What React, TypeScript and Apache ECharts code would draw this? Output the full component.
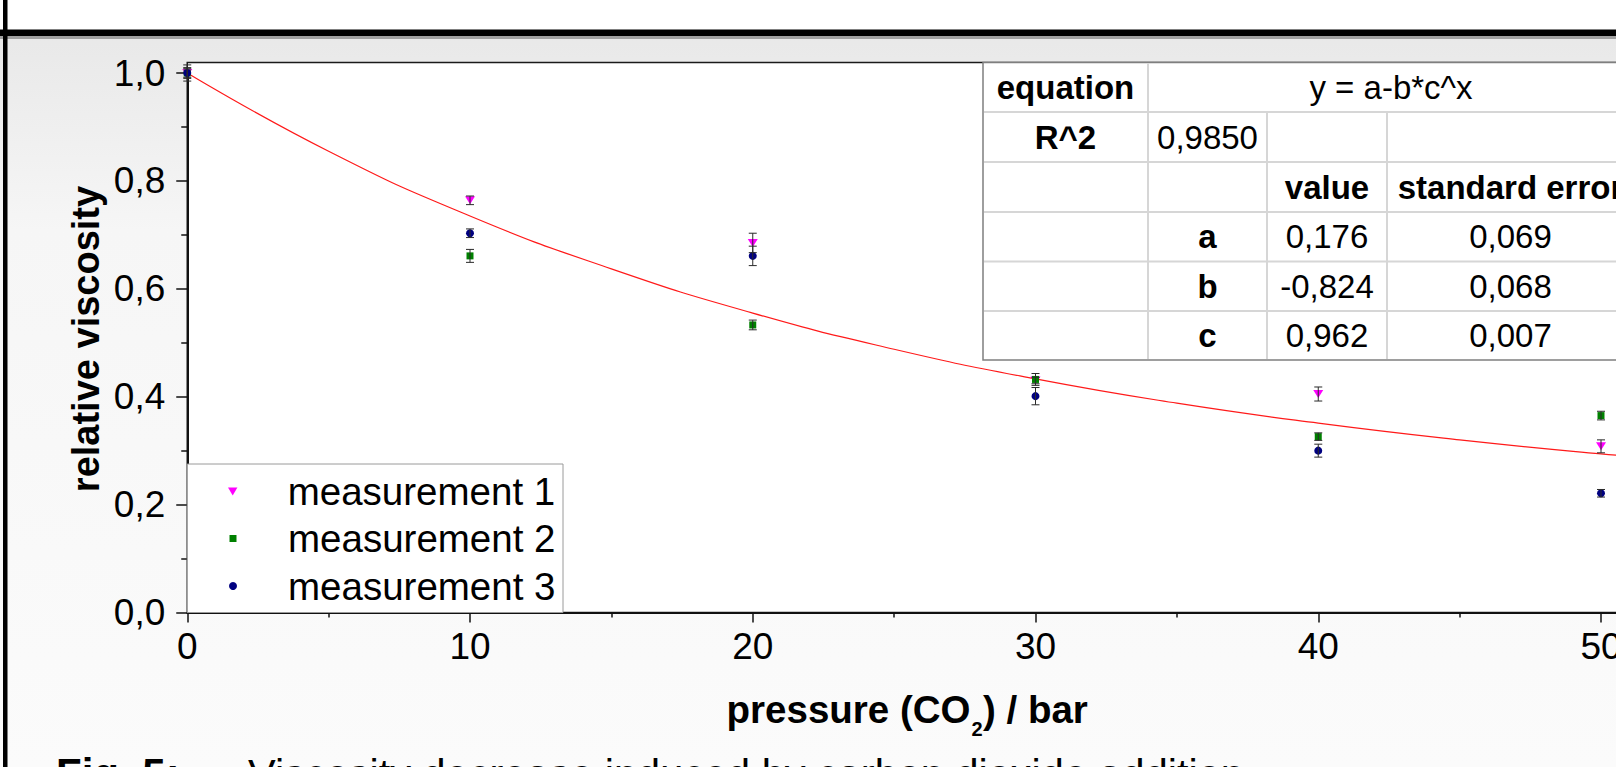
import React, { useEffect, useRef } from 'react';
import * as echarts from 'echarts';

// ---------- data ----------
const pressures = [0, 10, 20, 30, 40, 50];
const seriesNames = ['measurement 1', 'measurement 2', 'measurement 3'];
const m1Values = [1.0, 0.764, 0.685, 0.43, 0.405, 0.308];
const m1Errors = [0.008, 0.008, 0.018, 0.006, 0.013, 0.012];
const m2Values = [1.0, 0.661, 0.533, 0.432, 0.326, 0.365];
const m2Errors = [0.01, 0.012, 0.009, 0.011, 0.007, 0.008];
const m3Values = [1.0, 0.703, 0.661, 0.401, 0.3, 0.221];
const m3Errors = [0.015, 0.008, 0.018, 0.016, 0.012, 0.007];

// fitted curve
const fitPressures = [0, 5, 10, 15, 20, 25, 30, 35, 40, 45, 50, 52];
const fitValues = [1.0, 0.855, 0.735, 0.637, 0.555, 0.488, 0.433, 0.388, 0.351, 0.32, 0.294, 0.286];

// fit table
const equationLabel = 'equation';
const equationText = 'y = a-b*c^x';
const r2Label = 'R^2';
const r2Value = '0,9850';
const paramHeaders = ['value', 'standard error'];
const paramNames = ['a', 'b', 'c'];
const paramValues = ['0,176', '-0,824', '0,962'];
const paramErrors = ['0,069', '0,068', '0,007'];

const xTitleParts = ['pressure (CO', '2', ') / bar'];
const yTitle = 'relative viscosity';
const captionLabel = 'Fig. 5:';
const captionText = 'Viscosity decrease induced by carbon dioxide addition';

// ---------- layout ----------
const FONT = '"Liberation Sans", Arial, Helvetica, sans-serif';
const W = 1700;
const H = 767;
const GRID_LEFT = 187.25;
const GRID_TOP = 73;
const GRID_BOTTOM_Y = 612.5;
const X_MAX = 52;
const PX_PER_X = 28.275;
const GRID_W = X_MAX * PX_PER_X;

const COLORS = ['#ff00ff', '#008000', '#000080'];
const SYMBOLS = ['path://M0,0L10,0L5,8.5Z', 'rect', 'circle'];
const SYMBOL_SIZES: any[] = [[10, 8], 7, 8];

const seriesValues = [m1Values, m2Values, m3Values];
const seriesErrors = [m1Errors, m2Errors, m3Errors];

function buildOption() {
  const scatterSeries = seriesNames.map((name, s) => ({
    type: 'scatter',
    name,
    data: pressures.map((x, i) => [x, seriesValues[s][i]]),
    symbol: SYMBOLS[s],
    symbolSize: SYMBOL_SIZES[s],
    itemStyle: { color: COLORS[s], opacity: 1 },
    clip: false,
    z: 3,
    silent: true,
  }));

  const errorData: number[][] = [];
  seriesNames.forEach((_, s) => {
    pressures.forEach((x, i) => {
      const v = seriesValues[s][i];
      const e = seriesErrors[s][i];
      errorData.push([x, v - e, v + e]);
    });
  });

  const errorSeries = {
    type: 'custom',
    name: 'error',
    data: errorData,
    encode: { x: 0, y: [1, 2] },
    clip: false,
    z: 4,
    silent: true,
    renderItem: (params: any, api: any) => {
      const x = api.value(0);
      const lo = api.value(1);
      const hi = api.value(2);
      const p1 = api.coord([x, hi]);
      const p2 = api.coord([x, lo]);
      const hw = 4;
      const st = { stroke: '#2a2a2a', lineWidth: 1 };
      return {
        type: 'group',
        children: [
          { type: 'line', shape: { x1: p1[0], y1: p1[1], x2: p2[0], y2: p2[1] }, style: st },
          { type: 'line', shape: { x1: p1[0] - hw, y1: p1[1], x2: p1[0] + hw, y2: p1[1] }, style: st },
          { type: 'line', shape: { x1: p2[0] - hw, y1: p2[1], x2: p2[0] + hw, y2: p2[1] }, style: st },
        ],
      };
    },
  };

  const fitSeries = {
    type: 'line',
    name: 'fit',
    data: fitPressures.map((x, i) => [x, fitValues[i]]),
    showSymbol: false,
    smooth: true,
    lineStyle: { color: '#ff1a1a', width: 1.2 },
    z: 2,
    silent: true,
  };

  // legends: one per entry so each row sits exactly
  const legendRows = [491.5, 538.5, 586];
  const legendIconSizes = [[10, 8], [7, 7], [8, 8]];
  const legends = seriesNames.map((name, s) => {
    const w = legendIconSizes[s][0];
    const h = legendIconSizes[s][1];
    return {
      show: true,
      data: [{ name, icon: SYMBOLS[s] }],
      orient: 'vertical',
      left: 233 - w / 2,
      top: legendRows[s] - 20,
      padding: 0,
      itemWidth: w,
      itemHeight: h,
      selectedMode: false,
      textStyle: {
        fontFamily: FONT,
        fontSize: 38.5,
        color: '#000',
        lineHeight: 40,
        padding: [0, 0, 0, 50 - w / 2],
      },
    };
  });

  // ---- graphics: background, frame, table, titles ----
  const g: any[] = [];
  g.push({
    type: 'rect',
    z: -100,
    shape: { x: 0, y: 0, width: W, height: H },
    style: {
      fill: new echarts.graphic.LinearGradient(0, 0, 0, 1, [
        { offset: 0, color: '#e6e6e6' },
        { offset: 0.3, color: '#f6f6f6' },
        { offset: 1, color: '#fbfbfb' },
      ]),
    },
  });
  g.push({ type: 'rect', z: 100, shape: { x: 0, y: 0, width: W, height: 30 }, style: { fill: '#ffffff' } });
  g.push({ type: 'rect', z: 100, shape: { x: 0, y: 29.5, width: W, height: 6.5 }, style: { fill: '#000000' } });
  g.push({ type: 'rect', z: 100, shape: { x: 0, y: 36, width: W, height: 3 }, style: { fill: '#a0a0a0' } });
  g.push({ type: 'rect', z: 101, shape: { x: 3, y: 0, width: 4.5, height: H }, style: { fill: '#000000' } });

  g.push({
    type: 'rect',
    z: -50,
    shape: { x: GRID_LEFT, y: 62.5, width: W, height: GRID_BOTTOM_Y - 62.5 },
    style: { fill: '#ffffff', stroke: '#1a1a1a', lineWidth: 1.5 },
  });

  g.push({
    type: 'rect',
    z: 3,
    shape: { x: GRID_LEFT, y: 464, width: 563 - GRID_LEFT, height: GRID_BOTTOM_Y - 464 },
    style: { fill: '#ffffff', stroke: '#9a9a9a', lineWidth: 1 },
  });

  const cx = [983, 1148, 1267, 1387, 1634];
  const ry = [62.5, 112, 162, 212, 261.5, 311, 360];
  g.push({
    type: 'rect',
    z: 10,
    shape: { x: cx[0], y: ry[0], width: cx[4] - cx[0], height: ry[6] - ry[0] },
    style: { fill: '#ffffff', stroke: '#7f7f7f', lineWidth: 1.5 },
  });
  const inner = { stroke: '#d6d6d6', lineWidth: 2 };
  for (let r = 1; r < 6; r++) {
    g.push({ type: 'line', z: 11, shape: { x1: cx[0] + 1, y1: ry[r], x2: cx[4], y2: ry[r] }, style: inner });
  }
  g.push({ type: 'line', z: 11, shape: { x1: cx[1], y1: ry[0] + 1, x2: cx[1], y2: ry[6] - 1 }, style: inner });
  g.push({ type: 'line', z: 11, shape: { x1: cx[2], y1: ry[1], x2: cx[2], y2: ry[6] - 1 }, style: inner });
  g.push({ type: 'line', z: 11, shape: { x1: cx[3], y1: ry[1], x2: cx[3], y2: ry[6] - 1 }, style: inner });

  const tText = (text: string, x: number, y: number, bold: boolean) => ({
    type: 'text',
    z: 12,
    x,
    y,
    style: {
      text,
      fontFamily: FONT,
      fontSize: 33,
      fontWeight: bold ? 'bold' : 'normal',
      fill: '#000',
      align: 'center',
      verticalAlign: 'middle',
    },
  });
  const mid = (a: number, b: number) => (a + b) / 2;
  g.push(tText(equationLabel, mid(cx[0], cx[1]), mid(ry[0], ry[1]), true));
  g.push(tText(equationText, mid(cx[1], cx[4]), mid(ry[0], ry[1]), false));
  g.push(tText(r2Label, mid(cx[0], cx[1]), mid(ry[1], ry[2]), true));
  g.push(tText(r2Value, mid(cx[1], cx[2]), mid(ry[1], ry[2]), false));
  g.push(tText(paramHeaders[0], mid(cx[2], cx[3]), mid(ry[2], ry[3]), true));
  g.push(tText(paramHeaders[1], mid(cx[3], cx[4]), mid(ry[2], ry[3]), true));
  paramNames.forEach((p, i) => {
    const y = mid(ry[3 + i], ry[4 + i]);
    g.push(tText(p, mid(cx[1], cx[2]), y, true));
    g.push(tText(paramValues[i], mid(cx[2], cx[3]), y, false));
    g.push(tText(paramErrors[i], mid(cx[3], cx[4]), y, false));
  });

  g.push({
    type: 'text',
    z: 12,
    x: 86,
    y: 339,
    rotation: Math.PI / 2,
    style: {
      text: yTitle,
      fontFamily: FONT,
      fontSize: 38,
      fontWeight: 'bold',
      fill: '#000',
      align: 'center',
      verticalAlign: 'middle',
    },
  });
  const xt = { fontFamily: FONT, fontSize: 38.5, fontWeight: 'bold', fill: '#000', verticalAlign: 'middle' };
  g.push({ type: 'text', z: 12, x: 970.5, y: 709, style: { ...xt, text: xTitleParts[0], align: 'right' } });
  g.push({ type: 'text', z: 12, x: 971.5, y: 729, style: { ...xt, fontSize: 20, text: xTitleParts[1], align: 'left' } });
  g.push({ type: 'text', z: 12, x: 983, y: 709, style: { ...xt, text: xTitleParts[2], align: 'left' } });

  g.push({
    type: 'text',
    z: 12,
    x: 56,
    y: 773,
    style: { text: captionLabel, fontFamily: FONT, fontSize: 42, fontWeight: 'bold', fill: '#000', align: 'left', verticalAlign: 'middle' },
  });
  g.push({
    type: 'text',
    z: 12,
    x: 248,
    y: 773,
    style: { text: captionText, fontFamily: FONT, fontSize: 41.5, fill: '#000', align: 'left', verticalAlign: 'middle' },
  });

  const labelStyle = { fontFamily: FONT, fontSize: 37, color: '#000' };

  return {
    animation: false,
    backgroundColor: 'transparent',
    grid: {
      left: GRID_LEFT,
      top: GRID_TOP,
      width: GRID_W,
      height: GRID_BOTTOM_Y - GRID_TOP,
      containLabel: false,
    },
    xAxis: {
      type: 'value',
      min: 0,
      max: X_MAX,
      interval: 10,
      axisLine: { show: true, onZero: false, lineStyle: { color: '#111', width: 2 } },
      axisTick: { show: true, inside: false, length: 10, lineStyle: { color: '#111', width: 1.5 } },
      minorTick: { show: true, splitNumber: 2, length: 5, lineStyle: { color: '#111', width: 1.5 } },
      splitLine: { show: false },
      axisLabel: { ...labelStyle, margin: 15, showMaxLabel: false, formatter: (v: number) => String(v) },
    },
    yAxis: {
      type: 'value',
      min: 0,
      max: 1,
      interval: 0.2,
      axisLine: { show: true, onZero: false, lineStyle: { color: '#111', width: 2 } },
      axisTick: { show: true, inside: false, length: 11, lineStyle: { color: '#111', width: 1.5 } },
      minorTick: { show: true, splitNumber: 2, length: 6, lineStyle: { color: '#111', width: 1.5 } },
      splitLine: { show: false },
      axisLabel: { ...labelStyle, margin: 22, formatter: (v: number) => v.toFixed(1).replace('.', ',') },
    },
    legend: legends,
    graphic: { elements: g },
    series: [fitSeries, ...scatterSeries, errorSeries],
  };
}

export default function App() {
  const ref = useRef<HTMLDivElement>(null);
  useEffect(() => {
    if (!ref.current) return;
    const chart = echarts.init(ref.current, undefined, { renderer: 'svg' });
    chart.setOption(buildOption() as any);
    return () => chart.dispose();
  }, []);
  return (
    <div style={{ position: 'absolute', left: 0, top: 0, width: 1616, height: 767, overflow: 'hidden', background: '#fff' }}>
      <div ref={ref} style={{ width: W, height: H }} />
    </div>
  );
}
